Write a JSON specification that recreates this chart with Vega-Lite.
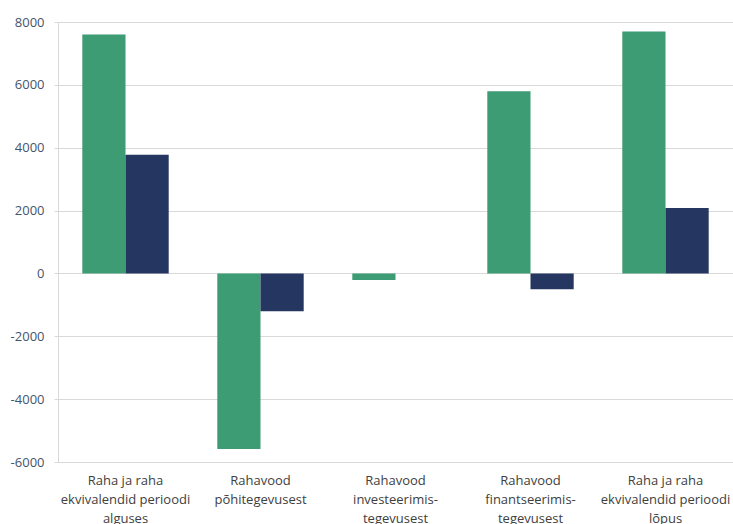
{
  "$schema": "https://vega.github.io/schema/vega-lite/v6.json",
  "width": 675,
  "height": 440,
  "autosize": {"type": "none"},
  "padding": {"left": 58, "top": 22, "right": 0, "bottom": 62},
  "background": "white",
  "title": {"text": "Kontserni rahavood", "anchor": "start", "offset": 18, "fontSize": 17, "font": "Open Sans", "fontWeight": "bold", "color": "#44546a", "dx": -56},
  "data": {"values": [
    {"k": "Raha ja raha|ekvivalendid perioodi|alguses", "s": "A", "v": 7600},
    {"k": "Raha ja raha|ekvivalendid perioodi|alguses", "s": "B", "v": 3780},
    {"k": "Rahavood|põhitegevusest", "s": "A", "v": -5590},
    {"k": "Rahavood|põhitegevusest", "s": "B", "v": -1200},
    {"k": "Rahavood|investeerimis-|tegevusest", "s": "A", "v": -210},
    {"k": "Rahavood|investeerimis-|tegevusest", "s": "B", "v": 0},
    {"k": "Rahavood|finantseerimis-|tegevusest", "s": "A", "v": 5800},
    {"k": "Rahavood|finantseerimis-|tegevusest", "s": "B", "v": -500},
    {"k": "Raha ja raha|ekvivalendid perioodi|lõpus", "s": "A", "v": 7700},
    {"k": "Raha ja raha|ekvivalendid perioodi|lõpus", "s": "B", "v": 2080}
  ]},
  "mark": {"type": "bar"},
  "encoding": {
    "x": {"field": "k", "type": "nominal", "sort": null, "title": null,
      "scale": {"paddingInner": 0.36, "paddingOuter": 0.18},
      "axis": {"labelExpr": "split(datum.label, '|')", "labelAngle": 0, "labelFont": "Open Sans", "labelFontSize": 13, "labelColor": "#404040", "labelLineHeight": 19, "labelPadding": 12, "ticks": false, "domain": false, "labelLimit": 200}},
    "xOffset": {"field": "s", "type": "nominal", "sort": ["A", "B"], "scale": {"paddingInner": 0}},
    "y": {"field": "v", "type": "quantitative", "title": null,
      "scale": {"domain": [-6000, 8000], "nice": false},
      "axis": {"values": [-6000, -4000, -2000, 0, 2000, 4000, 6000, 8000], "labelExpr": "datum.value + ''", "labelFont": "Open Sans", "labelFontSize": 13, "labelColor": "#44546a", "gridColor": "#d9d9d9", "domainColor": "#d9d9d9", "tickColor": "#d9d9d9", "tickSize": 4, "labelPadding": 10}},
    "color": {"field": "s", "type": "nominal", "legend": null, "scale": {"domain": ["A", "B"], "range": ["#3d9c73", "#253761"]}}
  },
  "config": {"view": {"stroke": null}}
}
